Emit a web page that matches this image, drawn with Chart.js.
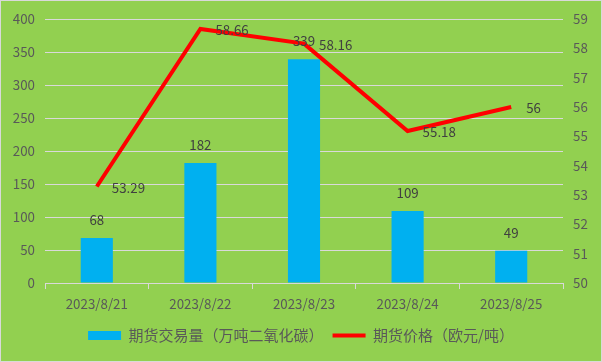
<!DOCTYPE html>
<html>
<head>
<meta charset="utf-8">
<script src="https://cdn.jsdelivr.net/npm/chart.js@4.4.0/dist/chart.umd.min.js"></script>
<style>
  html, body { margin: 0; padding: 0; background: #92D050; }
</style>
</head>
<body>
<canvas id="myChart" width="602" height="362"></canvas>
<script>
const dates = ['2023/8/21', '2023/8/22', '2023/8/23', '2023/8/24', '2023/8/25'];
const volume = [68, 182, 339, 109, 49];
const price = [53.29, 58.66, 58.16, 55.18, 56];
const volumeLabel = '期货交易量（万吨二氧化碳）';
const priceLabel = '期货价格（欧元/吨）';

const font = '"Noto Sans CJK SC", "Noto Sans", sans-serif';

// background and thin frame
const frame = {
  id: 'frame',
  beforeDraw(chart) {
    const c = chart.ctx;
    c.save();
    c.fillStyle = '#92D050';
    c.fillRect(0, 0, chart.width, chart.height);
    c.strokeStyle = '#D9D9D9';
    c.lineWidth = 1;
    c.strokeRect(0.5, 0.5, chart.width - 1, chart.height - 1);
    c.restore();
  }
};

// value labels on bars and line points
const valueLabels = {
  id: 'valueLabels',
  afterDatasetsDraw(chart) {
    const c = chart.ctx;
    c.save();
    c.font = '13.33px ' + font;
    c.fillStyle = '#404040';
    c.textBaseline = 'middle';
    chart.getDatasetMeta(0).data.forEach((bar, i) => {
      c.textAlign = 'center';
      c.fillText(volume[i], bar.x, bar.y - 18);
    });
    chart.getDatasetMeta(1).data.forEach((pt, i) => {
      c.textAlign = 'left';
      c.fillText(price[i], pt.x + 15, pt.y + 1);
    });
    c.restore();
  }
};

const ctx = document.getElementById('myChart').getContext('2d');
const myChart = new Chart(ctx, {
  data: {
    labels: dates,
    datasets: [{
      type: 'bar',
      label: volumeLabel,
      data: volume,
      backgroundColor: '#00B0F0',
      yAxisID: 'y',
      categoryPercentage: 1,
      barPercentage: 0.31,
      order: 2
    }, {
      type: 'line',
      label: priceLabel,
      data: price,
      borderColor: '#FF0000',
      backgroundColor: '#FF0000',
      borderWidth: 4,
      pointRadius: 0,
      tension: 0,
      yAxisID: 'y1',
      order: 1
    }]
  },
  options: {
    responsive: false,
    animation: false,
    layout: { padding: { top: 19, bottom: 9, left: 0, right: 0 } },
    plugins: {
      tooltip: { enabled: false },
      legend: {
        position: 'bottom',
        labels: {
          usePointStyle: true,
          pointStyleWidth: 33,
          boxHeight: 9,
          padding: 9,
          color: '#595959',
          font: { family: font, size: 15 },
          generateLabels(chart) {
            return chart.data.datasets.map((ds, i) => ({
              text: ds.label,
              fillStyle: ds.backgroundColor,
              strokeStyle: ds.type === 'line' ? ds.borderColor : ds.backgroundColor,
              lineWidth: ds.type === 'line' ? 4 : 0,
              pointStyle: ds.type === 'line' ? 'line' : 'rect',
              fontColor: '#595959',
              datasetIndex: i
            }));
          }
        }
      }
    },
    scales: {
      x: {
        grid: { drawOnChartArea: false, offset: true, tickLength: 6, color: '#D9D9D9' },
        border: { color: '#D9D9D9' },
        ticks: { color: '#595959', padding: 7, font: { family: font, size: 13.33 } },
        afterFit(scale) { scale.height = 36; }
      },
      y: {
        position: 'left',
        min: 0, max: 400,
        ticks: { stepSize: 50, color: '#595959', padding: 10, font: { family: font, size: 13.33 } },
        grid: { color: '#D9D9D9', drawTicks: false },
        border: { display: false },
        afterFit(scale) { scale.width = 45; }
      },
      y1: {
        position: 'right',
        min: 50, max: 59,
        ticks: { stepSize: 1, color: '#595959', padding: 10, font: { family: font, size: 13.33 } },
        grid: { drawOnChartArea: false, drawTicks: false },
        border: { display: false },
        afterFit(scale) { scale.width = 39; }
      }
    }
  },
  plugins: [frame, valueLabels]
});
</script>
</body>
</html>
